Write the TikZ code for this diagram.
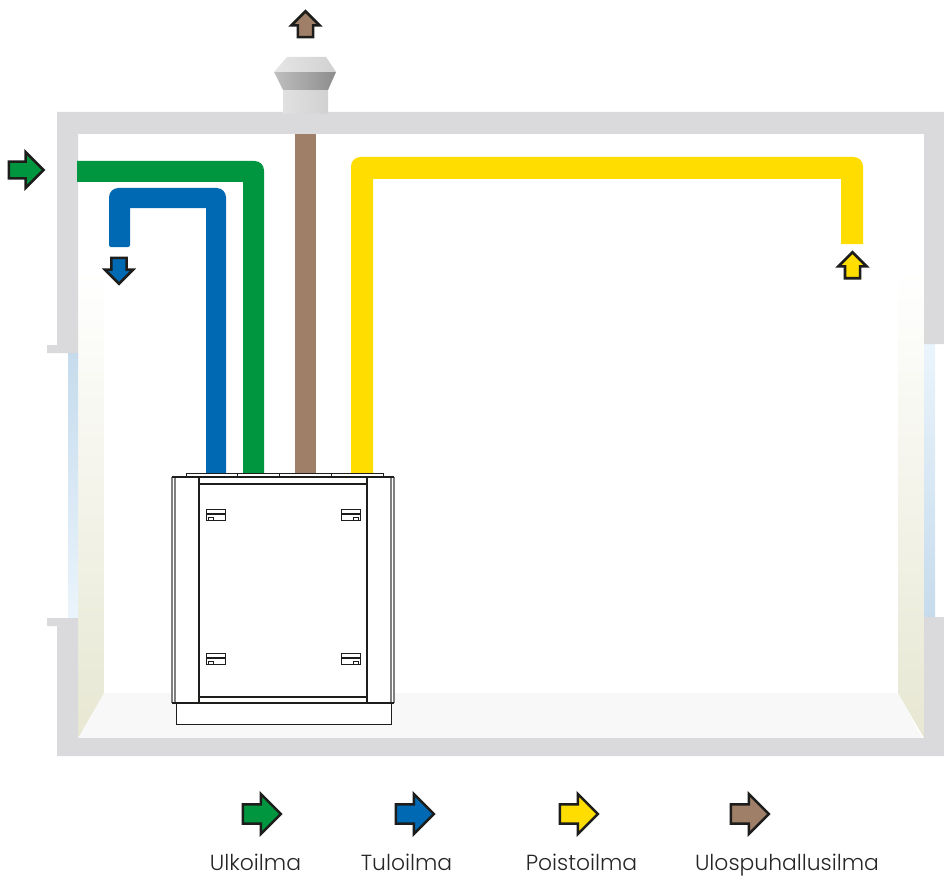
\documentclass[tikz,border=0pt]{standalone}
\usepackage{fontspec}
\setmainfont{Poppins}[UprightFont=* Light]
\usepackage{xcolor}
\usetikzlibrary{shapes.arrows, positioning, calc}
\definecolor{wallgrey}{HTML}{DADADC}
\definecolor{floorgrey}{HTML}{F8F8F8}
\definecolor{outairgreen}{HTML}{009640}
\definecolor{supplyblue}{HTML}{0069B4}
\definecolor{extractyellow}{HTML}{FFDD00}
\definecolor{exhaustbrown}{HTML}{9F7F67}
\definecolor{inkblack}{HTML}{1D1D1B}
\definecolor{shadeolive}{HTML}{E7E7D3}
\definecolor{glassdark}{HTML}{C6DBEC}
\definecolor{glasslight}{HTML}{EAF4FC}
\tikzset{
  wall/.style={fill=wallgrey},
  flow/.style={single arrow, draw=inkblack, line width=1.9pt, inner sep=4.7pt, single arrow head extend=4.9pt, single arrow head indent=0pt, minimum height=19.5pt, anchor=center},
  midflow/.style={flow, inner sep=5.3pt, single arrow head extend=7.2pt, minimum height=26pt},
  bigflow/.style={flow, inner sep=6.3pt, single arrow head extend=7.8pt, minimum height=28.5pt},
  legendtext/.style={font=\fontsize{16.4}{18}\selectfont, text=black!85, anchor=base, inner sep=0pt},
  unitline/.style={draw=inkblack, line width=.7pt},
  unitthick/.style={draw=inkblack, line width=1.9pt},
  unitmid/.style={draw=inkblack, line width=1.4pt},
  unitgrey/.style={draw=black!50, line width=.9pt},
}
\begin{document}
\begin{tikzpicture}[x=.75pt,y=-.75pt]
\useasboundingbox (0,0) rectangle (944,877);
% room
\fill[floorgrey] (104,693) -- (898,693) -- (922,738) -- (78,738) -- cycle;
\shade[top color=white, bottom color=shadeolive] (78,270) -- (104,270) -- (104,693) -- (78,738) -- cycle;
\shade[top color=white, bottom color=shadeolive] (898,270) -- (924,270) -- (924,738) -- (898,693) -- cycle;
\shade[top color=glassdark, bottom color=glasslight] (68,353) rectangle (78,618);
\shade[top color=glasslight, bottom color=glassdark] (924,344) rectangle (935,617);
\fill[wall] (47,345) -- (57,345) -- (57,112) -- (944,112) -- (944,344) -- (924,344) -- (924,134) -- (78,134) -- (78,353) -- (47,353) -- cycle;
\fill[wall] (47,618) -- (78,618) -- (78,738) -- (924,738) -- (924,617) -- (944,617) -- (944,756) -- (57,756) -- (57,626) -- (47,626) -- cycle;
% roof vent
\shade[left color=black!12, right color=black!18] (283,90) rectangle (328,114);
\shade[left color=black!25, middle color=black!28, right color=black!45] (274,72) -- (336,72) -- (328,90) -- (283,90) -- cycle;
\shade[left color=black!10, middle color=black!10, right color=black!18] (287,57) -- (326,57) -- (336,72) -- (274,72) -- cycle;
% ducts
\fill[exhaustbrown] (295,134) rectangle (316,473);
\fill[outairgreen] (77,161) [rounded corners=7pt] -- (264,161) [sharp corners] -- (264,473) -- (243,473) -- (243,182) -- (77,182) -- cycle;
\fill[supplyblue] (206,473) -- (206,208) -- (130,208) [rounded corners=1.5pt] -- (130,247) -- (109,247) [rounded corners=7pt] -- (109,188) -- (226,188) [sharp corners] -- (226,473) -- cycle;
\fill[extractyellow] (373,473) -- (373,179) -- (841,179) -- (841,244) -- (863,244) [rounded corners=7pt] -- (863,157) -- (351,157) [sharp corners] -- (351,473) -- cycle;
% unit
\filldraw[fill=white, unitline] (186,477) rectangle (383,473.5);
\foreach \x in {237,279,331}
  \draw[unitline] (\x,473.5) -- (\x,477);
\filldraw[fill=white, draw=none] (172,477) rectangle (394,703);
\filldraw[fill=white, unitline] (176,703) rectangle (391,724);
\draw[unitgrey] (175,477) -- (175,703) (391,477) -- (391,703) (172,477) -- (172,703) (394,477) -- (394,703);
\draw[unitthick] (172,477) -- (394,477) (172,703) -- (394,703) (199,477) -- (199,703) (367,477) -- (367,703) (199,484) -- (367,484) (199,697) -- (367,697);
\foreach \y in {509,653} {
  \foreach \x/\s in {206/0,341/1} {
    \draw[unitline] (\x,\y) rectangle ++(19,11);
    \draw[unitmid] (\x,\y+5) -- ++(19,0);
    \ifnum\s=0 \draw[unitline] (\x+2,\y+11) rectangle ++(5,-3);
    \else \draw[unitline] (\x+12,\y+11) rectangle ++(5,-3); \fi
  }
}
% flow arrows
\node[flow, fill=exhaustbrown, shape border rotate=90] (exhaustup) at (305.5,28) {};
\node[midflow, fill=outairgreen] (outairin) at (22,170) {};
\node[flow, fill=supplyblue, shape border rotate=270] (supplydown) at (119,267) {};
\node[flow, fill=extractyellow, shape border rotate=90] (extractup) at (852.5,269) {};
% legend
\node[bigflow, fill=outairgreen] (legout) at (257,814) {};
\node[bigflow, fill=supplyblue] (legsup) at (410,814) {};
\node[bigflow, fill=extractyellow] (legext) at (574,814) {};
\node[bigflow, fill=exhaustbrown] (legexh) at (745,814) {};
\node[legendtext] (txtout) at (255.5,870) {Ulkoilma};
\node[legendtext] (txtsup) at (406.5,870) {Tuloilma};
\node[legendtext] (txtext) at (581.5,870) {Poistoilma};
\node[legendtext] (txtexh) at (787,870) {Ulospuhallusilma};
\end{tikzpicture}
\end{document}
